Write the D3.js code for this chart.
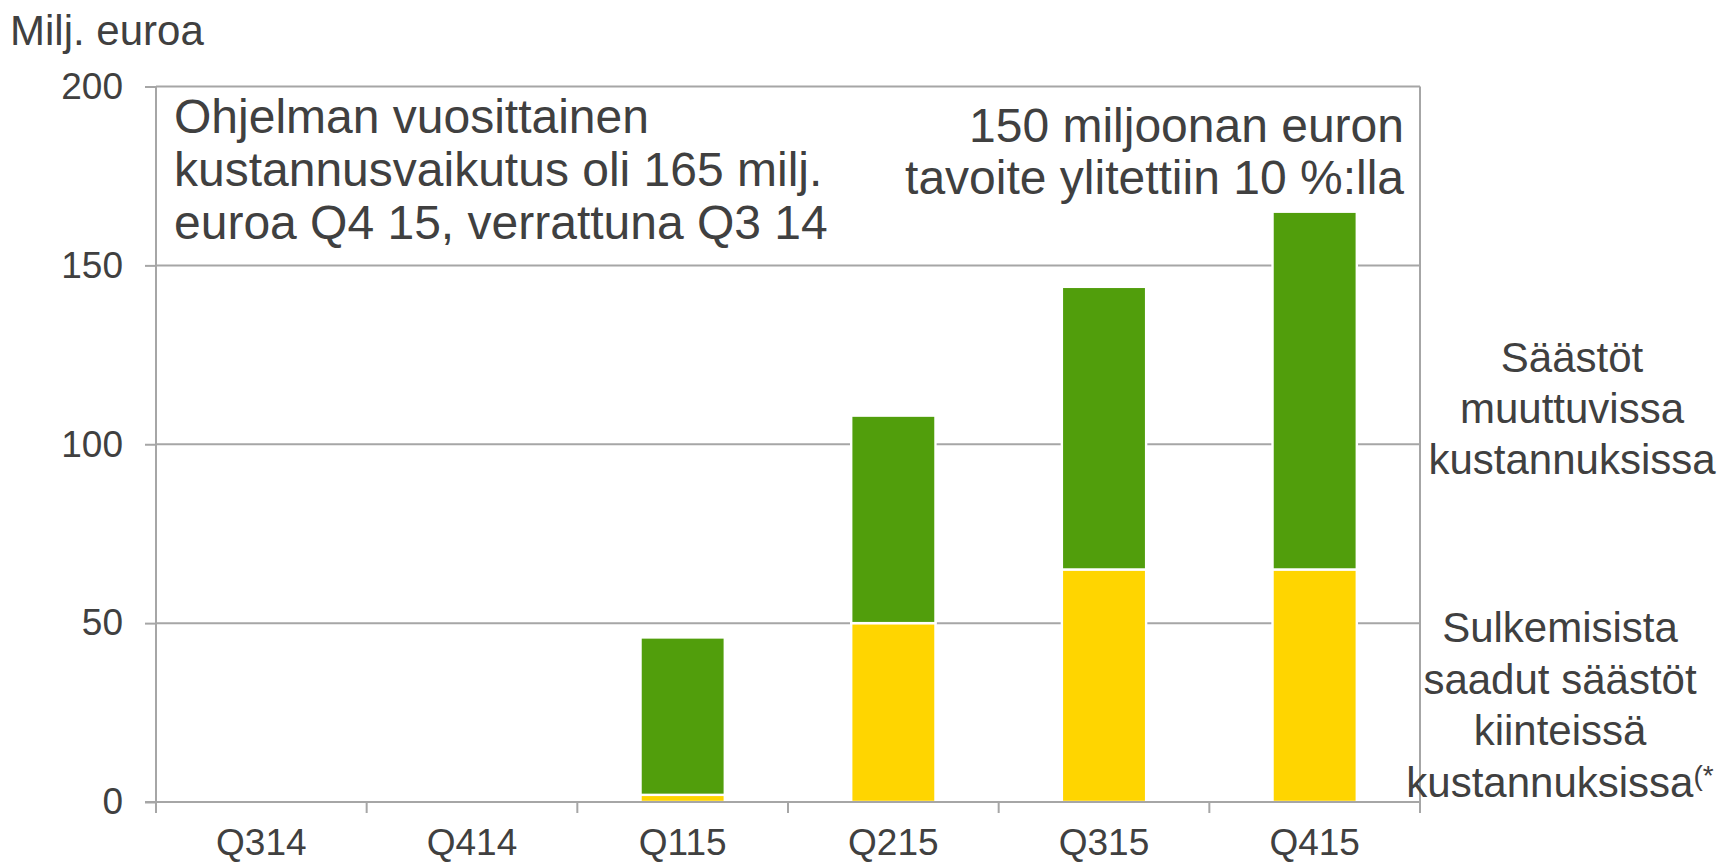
<!DOCTYPE html>
<html>
<head>
<meta charset="utf-8">
<script src="https://cdn.jsdelivr.net/npm/d3@7"></script>
<style>
  body { margin: 0; background: #fff; }
  svg { display: block; font-family: "Liberation Sans", Arial, sans-serif; }
</style>
</head>
<body>
<script>
// data (milj. euroa)
var quarters = ["Q314", "Q414", "Q115", "Q215", "Q315", "Q415"];
var fixedSavings = [0, 0, 2, 50, 65, 65];      // yellow, closures
var variableSavings = [0, 0, 44, 58, 79, 100]; // green, on top
var yTicks = [0, 50, 100, 150, 200];

var width = 1722, height = 862;
var plotL = 156, plotR = 1420, plotT = 86.5, plotB = 802;
var textColor = "#404040";
var gridColor = "#a6a6a6";

var svg = d3.select("body").append("svg")
    .attr("width", width)
    .attr("height", height);

var x = d3.scaleBand().domain(quarters).range([plotL, plotR]).padding(0);
var y = d3.scaleLinear().domain([0, 200]).range([plotB, plotT]);

var barW = x.bandwidth() * 0.40;

// gridlines
svg.append("g").selectAll("line")
    .data(yTicks.filter(function(d) { return d > 0; }))
    .enter().append("line")
    .attr("x1", plotL).attr("x2", plotR)
    .attr("y1", function(d) { return y(d); })
    .attr("y2", function(d) { return y(d); })
    .attr("stroke", gridColor).attr("stroke-width", 2);

// right frame line (continues below as a tick)
svg.append("line")
    .attr("x1", plotR).attr("x2", plotR)
    .attr("y1", plotT).attr("y2", plotB + 11)
    .attr("stroke", gridColor).attr("stroke-width", 2);

// stacked bars
var stack = quarters.map(function(q, i) {
    return { q: q, a: fixedSavings[i], b: variableSavings[i] };
});

var bars = svg.append("g").selectAll("g")
    .data(stack)
    .enter().append("g");

bars.filter(function(d) { return d.a > 0; }).append("rect")
    .attr("x", function(d) { return x(d.q) + (x.bandwidth() - barW) / 2; })
    .attr("width", barW)
    .attr("y", function(d) { return y(d.a); })
    .attr("height", function(d) { return y(0) - y(d.a); })
    .attr("fill", "#ffd500")
    .attr("stroke", "#fff").attr("stroke-width", 2.4);

bars.filter(function(d) { return d.b > 0; }).append("rect")
    .attr("x", function(d) { return x(d.q) + (x.bandwidth() - barW) / 2; })
    .attr("width", barW)
    .attr("y", function(d) { return y(d.a + d.b); })
    .attr("height", function(d) { return y(d.a) - y(d.a + d.b); })
    .attr("fill", "#519e0c")
    .attr("stroke", "#fff").attr("stroke-width", 2.4);

// y axis
var yAxis = svg.append("g")
    .attr("transform", "translate(" + plotL + ",0)")
    .call(d3.axisLeft(y).tickValues(yTicks).tickSize(11).tickPadding(22));
yAxis.select(".domain").remove();
yAxis.selectAll("line").attr("stroke", gridColor).attr("stroke-width", 2);
yAxis.selectAll("text")
    .attr("fill", textColor)
    .style("font-size", "37px")
    .style("font-family", "Liberation Sans, Arial, sans-serif");

svg.append("line")
    .attr("x1", plotL).attr("x2", plotL)
    .attr("y1", plotT).attr("y2", plotB + 11)
    .attr("stroke", gridColor).attr("stroke-width", 2);

// x axis: baseline + boundary ticks, labels centered in bands
svg.append("line")
    .attr("x1", plotL - 11).attr("x2", plotR)
    .attr("y1", plotB).attr("y2", plotB)
    .attr("stroke", gridColor).attr("stroke-width", 2);

svg.append("g").selectAll("line")
    .data(quarters.slice(1))
    .enter().append("line")
    .attr("x1", function(d) { return x(d); })
    .attr("x2", function(d) { return x(d); })
    .attr("y1", plotB).attr("y2", plotB + 11)
    .attr("stroke", gridColor).attr("stroke-width", 2);

var xAxis = svg.append("g")
    .attr("transform", "translate(0," + plotB + ")")
    .call(d3.axisBottom(x).tickSize(0).tickPadding(27));
xAxis.select(".domain").remove();
xAxis.selectAll("text")
    .attr("fill", textColor)
    .style("font-size", "37px")
    .style("font-family", "Liberation Sans, Arial, sans-serif");

// y axis title
svg.append("text")
    .attr("x", 10).attr("y", 45)
    .attr("fill", textColor)
    .style("font-size", "42px")
    .text("Milj. euroa");

// annotations
function multiline(lines, xPos, yPos, anchor, size, lh) {
    var t = svg.append("text")
        .attr("x", xPos).attr("y", yPos)
        .attr("text-anchor", anchor)
        .attr("fill", textColor)
        .style("font-size", size + "px");
    lines.forEach(function(l, i) {
        t.append("tspan").attr("x", xPos).attr("dy", i === 0 ? 0 : lh).text(l);
    });
    return t;
}

multiline(["Ohjelman vuosittainen", "kustannusvaikutus oli 165 milj.", "euroa Q4 15, verrattuna Q3 14"],
    174, 133, "start", 48, 53);
multiline(["150 miljoonan euron", "tavoite ylitettiin 10 %:lla"],
    1404, 142, "end", 48, 52);

// series labels on the right
multiline(["Säästöt", "muuttuvissa", "kustannuksissa"], 1572, 372, "middle", 42, 51);
var lab2 = multiline(["Sulkemisista", "saadut säästöt", "kiinteissä"], 1560, 642, "middle", 42, 51.7);
var last = lab2.append("tspan").attr("x", 1560).attr("dy", 51.7).text("kustannuksissa");
last.append("tspan").attr("dy", -12).style("font-size", "28px").text("(*");
</script>
</body>
</html>
